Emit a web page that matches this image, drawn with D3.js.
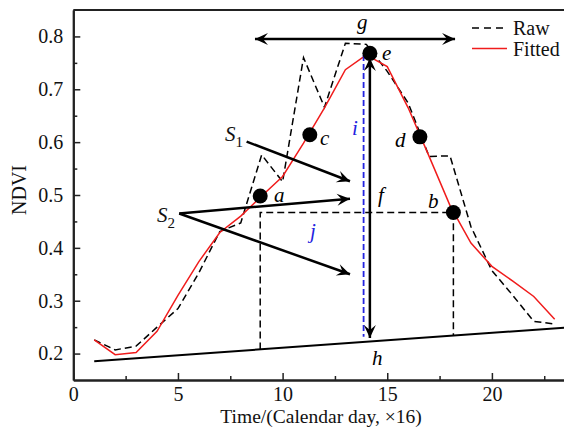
<!DOCTYPE html>
<html>
<head>
<meta charset="utf-8">
<script src="https://cdn.jsdelivr.net/npm/d3@7"></script>
<style>
  body { margin: 0; background: #fff; }
  svg { display: block; }
</style>
</head>
<body>
<svg id="svg" width="564" height="432"></svg>
<script>
const serif = '"Liberation Serif", "Times New Roman", serif';

// time steps (x 16 days)
const days = [1, 2, 3, 4, 5, 6, 7, 8, 9, 10, 11, 12, 13, 14, 15, 16, 17, 18, 19, 20, 21, 22, 23];
const raw = [0.226, 0.207, 0.214, 0.25, 0.285, 0.353, 0.431, 0.447, 0.576, 0.525, 0.76, 0.666, 0.787, 0.785, 0.734, 0.674, 0.573, 0.574, 0.44, 0.357, 0.31, 0.261, 0.256];
const fitted = [0.226, 0.198, 0.202, 0.242, 0.31, 0.374, 0.429, 0.46, 0.498, 0.535, 0.598, 0.665, 0.737, 0.765, 0.743, 0.665, 0.573, 0.48, 0.409, 0.365, 0.337, 0.308, 0.265];

// phenology key points on the fitted curve
const pointNames = ['a', 'c', 'e', 'd', 'b'];
const pointT = [8.93, 11.3, 14.17, 16.56, 18.16];
const pointV = [0.498, 0.614, 0.768, 0.61, 0.467];

// background line (t, v)
const baseT = [1, 23.5];
const baseV = [0.1855, 0.249];

const xTicks = [0, 5, 10, 15, 20];
const xMinor = [2.5, 7.5, 12.5, 17.5, 22.5];
const yTicks = [0.2, 0.3, 0.4, 0.5, 0.6, 0.7, 0.8];
const yMinor = [0.25, 0.35, 0.45, 0.55, 0.65, 0.75];

// annotation labels: text, t, v, colour
const labelText = ['a', 'b', 'c', 'd', 'e', 'f', 'g', 'h', 'i', 'j'];
const labelT = [9.59, 16.95, 11.79, 15.37, 14.75, 14.56, 13.55, 14.27, 13.32, 11.31];
const labelV = [0.487, 0.476, 0.594, 0.59, 0.755, 0.487, 0.814, 0.178, 0.614, 0.419];
const labelColor = ['#000', '#000', '#000', '#000', '#000', '#000', '#000', '#000', '#2323e0', '#2323e0'];

const margin = {left: 73.3, top: 10, bottom: 380};
const svg = d3.select('#svg');

const x = d3.scaleLinear().domain([0, 23.6]).range([margin.left, margin.left + 23.6 * 20.93]);
const y = d3.scaleLinear().domain([0.15, 0.85]).range([margin.bottom, margin.top]);

const defs = svg.append('defs');
defs.append('marker')
  .attr('id', 'head')
  .attr('viewBox', '-14 -7 16 14')
  .attr('refX', 0).attr('refY', 0)
  .attr('markerWidth', 16).attr('markerHeight', 14)
  .attr('markerUnits', 'userSpaceOnUse')
  .attr('orient', 'auto-start-reverse')
  .append('path')
  .attr('d', 'M0,0 L-13,-6 L-8,0 L-13,6 Z')
  .attr('fill', '#000');

// axes
svg.append('g')
  .attr('transform', `translate(0,${margin.bottom})`)
  .call(d3.axisBottom(x).tickValues(xTicks).tickSizeInner(-7).tickSizeOuter(0).tickPadding(7));
svg.append('g')
  .attr('transform', `translate(0,${margin.bottom})`)
  .call(d3.axisBottom(x).tickValues(xMinor).tickSizeInner(-4).tickSizeOuter(0).tickFormat(''));
svg.append('g')
  .attr('transform', `translate(${margin.left},0)`)
  .call(d3.axisLeft(y).tickValues(yTicks).tickSizeInner(-7).tickSizeOuter(0).tickPadding(10).tickFormat(d3.format('.1f')));
svg.append('g')
  .attr('transform', `translate(${margin.left},0)`)
  .call(d3.axisLeft(y).tickValues(yMinor).tickSizeInner(-4).tickSizeOuter(0).tickFormat(''));

svg.selectAll('.domain').attr('stroke', '#222').attr('stroke-width', 2);
svg.selectAll('.tick line').attr('stroke', '#222').attr('stroke-width', 1.5);
svg.selectAll('.tick text')
  .attr('font-family', serif).attr('font-size', 20).attr('fill', '#111');

// top frame line
svg.append('line')
  .attr('x1', margin.left).attr('x2', x(23.6))
  .attr('y1', y(0.85)).attr('y2', y(0.85))
  .attr('stroke', '#222').attr('stroke-width', 2);

svg.append('text')
  .attr('x', 321).attr('y', 423)
  .attr('text-anchor', 'middle').attr('font-family', serif).attr('font-size', 19.5).attr('fill', '#111')
  .text('Time/(Calendar day, \u00d716)');
svg.append('text')
  .attr('transform', 'translate(26,190) rotate(-90)')
  .attr('text-anchor', 'middle').attr('font-family', serif).attr('font-size', 20).attr('fill', '#111')
  .text('NDVI');

// background line
svg.append('line')
  .attr('x1', x(baseT[0])).attr('y1', y(baseV[0]))
  .attr('x2', x(baseT[1])).attr('y2', y(baseV[1]))
  .attr('stroke', '#000').attr('stroke-width', 2);
const baseAt = t => baseV[0] + (t - baseT[0]) * (baseV[1] - baseV[0]) / (baseT[1] - baseT[0]);

// dashed box from a to b
const boxPath = d3.line()([
  [x(pointT[0]), y(baseAt(pointT[0]))],
  [x(pointT[0]), y(pointV[4])],
  [x(pointT[4]), y(pointV[4])],
  [x(pointT[4]), y(baseAt(pointT[4]))]
]);
svg.append('path').attr('d', boxPath)
  .attr('fill', 'none').attr('stroke', '#000').attr('stroke-width', 1.5)
  .attr('stroke-dasharray', '7,4');

// curves
const line = d3.line().x((d, i) => x(days[i])).y(d => y(d));
svg.append('path').datum(raw).attr('d', line)
  .attr('fill', 'none').attr('stroke', '#000').attr('stroke-width', 1.5)
  .attr('stroke-dasharray', '7,4');
svg.append('path').datum(fitted).attr('d', line)
  .attr('fill', 'none').attr('stroke', '#f01c1c').attr('stroke-width', 1.5);

// blue dashed line i
svg.append('line')
  .attr('x1', x(13.87)).attr('x2', x(13.87))
  .attr('y1', y(0.765)).attr('y2', y(0.232))
  .attr('stroke', '#2323e0').attr('stroke-width', 1.8)
  .attr('stroke-dasharray', '6,3');

// arrows
function arrow(t1, v1, t2, v2, both) {
  const a = svg.append('line')
    .attr('x1', x(t1)).attr('y1', y(v1))
    .attr('x2', x(t2)).attr('y2', y(v2))
    .attr('stroke', '#000').attr('stroke-width', 2.5)
    .attr('marker-end', 'url(#head)');
  if (both) a.attr('marker-start', 'url(#head)');
}
arrow(8.68, 0.795, 18.24, 0.795, true);   // g
arrow(14.17, 0.759, 14.17, 0.2296, true); // e-h
arrow(8.28, 0.601, 13.22, 0.526, false);  // S1
arrow(5.06, 0.465, 13.22, 0.493, false);  // S2
arrow(5.06, 0.465, 13.22, 0.35, false);   // S2

// key points
svg.selectAll('.pt')
  .data(pointNames)
  .enter()
  .append('circle')
  .attr('class', 'pt')
  .attr('cx', (d, i) => x(pointT[i]))
  .attr('cy', (d, i) => y(pointV[i]))
  .attr('r', 7.5)
  .attr('fill', '#000');

// labels
svg.selectAll('.lab')
  .data(labelText)
  .enter()
  .append('text')
  .attr('class', 'lab')
  .attr('x', (d, i) => x(labelT[i]))
  .attr('y', (d, i) => y(labelV[i]))
  .attr('font-family', serif).attr('font-size', 21).attr('font-style', 'italic')
  .attr('fill', (d, i) => labelColor[i])
  .text(d => d);

function sLabel(t, v, sub) {
  const tx = svg.append('text')
    .attr('x', x(t)).attr('y', y(v))
    .attr('font-family', serif).attr('font-size', 21).attr('fill', '#111');
  tx.append('tspan').attr('font-style', 'italic').text('S');
  tx.append('tspan').attr('dy', 6).attr('font-size', 15).text(sub);
}
sLabel(7.25, 0.602, '1');
sLabel(4.0, 0.449, '2');

// legend
const legend = svg.append('g').attr('font-family', serif);
legend.append('line')
  .attr('x1', 472).attr('x2', 507).attr('y1', 28).attr('y2', 28)
  .attr('stroke', '#000').attr('stroke-width', 1.5).attr('stroke-dasharray', '7,5');
legend.append('text').attr('x', 513).attr('y', 35).attr('font-size', 20).attr('fill', '#111').text('Raw');
legend.append('line')
  .attr('x1', 472).attr('x2', 507).attr('y1', 48.5).attr('y2', 48.5)
  .attr('stroke', '#f01c1c').attr('stroke-width', 1.5);
legend.append('text').attr('x', 513).attr('y', 56).attr('font-size', 20).attr('fill', '#111').text('Fitted');
</script>
</body>
</html>
